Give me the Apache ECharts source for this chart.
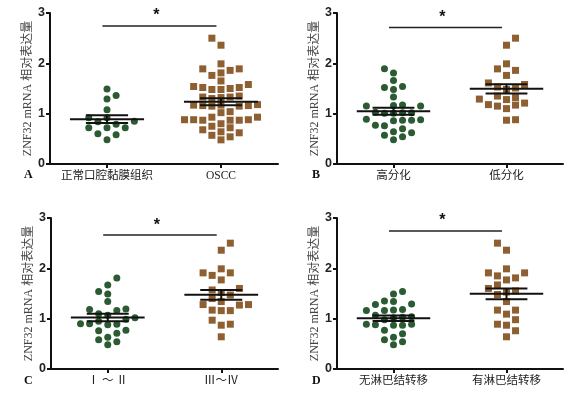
<!DOCTYPE html>
<html>
<head>
<meta charset="utf-8">
<script src="https://cdn.jsdelivr.net/npm/echarts@6/dist/echarts.min.js"></script>
<style>
  html, body { margin: 0; padding: 0; background: #fff; }
  #chart { width: 576px; height: 398px; }
</style>
</head>
<body>
<div id="chart"></div>
<script>
// panel tags + group names
const panelTags = ['A', 'B', 'C', 'D'];
const catsA = ['正常口腔黏膜组织', 'OSCC'];
const catsB = ['高分化', '低分化'];
const catsC = ['Ⅰ ～ Ⅱ', 'Ⅲ～Ⅳ'];
const catsD = ['无淋巴结转移', '有淋巴结转移'];
const yTicks = [0, 1, 2, 3];
const yName = 'ZNF32 mRNA 相对表达量';

// relative expression, one value per dot
const aNormal = [0.48, 0.58, 0.60, 0.72, 0.72, 0.72, 0.79, 0.84, 0.85, 0.92, 0.92, 1.08, 1.29, 1.36, 1.49];
const aOscc = [0.48, 0.54, 0.57, 0.62, 0.64, 0.68, 0.72, 0.75, 0.80, 0.87, 0.87, 0.87, 0.88, 0.88, 0.88,
  0.93, 0.93, 1.02, 1.04, 1.15, 1.15, 1.16, 1.16, 1.17, 1.17, 1.18, 1.30, 1.32, 1.33, 1.33, 1.35,
  1.48, 1.48, 1.50, 1.52, 1.52, 1.54, 1.58, 1.65, 1.76, 1.81, 1.86, 1.89, 1.89, 1.99, 2.36, 2.50];
const bHigh = [0.48, 0.54, 0.57, 0.62, 0.64, 0.70, 0.76, 0.77, 0.86, 0.87, 0.87, 0.88, 0.89, 1.01, 1.01,
  1.02, 1.02, 1.03, 1.15, 1.15, 1.16, 1.17, 1.33, 1.48, 1.52, 1.54, 1.66, 1.81, 1.89];
const bLow = [0.87, 0.88, 1.10, 1.15, 1.17, 1.18, 1.21, 1.28, 1.29, 1.32, 1.35, 1.48, 1.51, 1.53, 1.58,
  1.61, 1.76, 1.86, 1.89, 1.99, 2.36, 2.50];
const cEarly = [0.48, 0.54, 0.58, 0.63, 0.71, 0.76, 0.77, 0.88, 0.89, 0.90, 0.90, 0.95, 0.99, 1.02, 1.07,
  1.10, 1.16, 1.18, 1.19, 1.34, 1.49, 1.54, 1.67, 1.81];
const cLate = [0.64, 0.87, 0.89, 0.97, 1.16, 1.16, 1.17, 1.27, 1.28, 1.28, 1.34, 1.40, 1.47, 1.52, 1.57,
  1.60, 1.77, 1.86, 1.91, 1.91, 1.99, 2.36, 2.50];
const dNoMeta = [0.48, 0.54, 0.58, 0.63, 0.70, 0.77, 0.87, 0.87, 0.89, 0.88, 0.89, 0.98, 1.02, 1.03, 1.04,
  1.07, 1.16, 1.16, 1.17, 1.18, 1.28, 1.29, 1.34, 1.35, 1.49, 1.54];
const dMeta = [0.64, 0.76, 0.87, 0.89, 0.98, 1.09, 1.17, 1.17, 1.34, 1.48, 1.53, 1.55, 1.60, 1.67, 1.77,
  1.81, 1.85, 1.91, 1.91, 1.99, 2.36, 2.50];

// height of the "*" bracket in each panel
const sigY = [2.74, 2.71, 2.66, 2.74];

const panels = [
  { cats: catsA, groups: [aNormal, aOscc] },
  { cats: catsB, groups: [bHigh, bLow] },
  { cats: catsC, groups: [cEarly, cLate] },
  { cats: catsD, groups: [dNoMeta, dMeta] }
];

const grids = [
  { left: 50, top: 13, width: 228, height: 151 },
  { left: 337, top: 13, width: 226, height: 151 },
  { left: 51, top: 218, width: 227, height: 151 },
  { left: 337, top: 218, width: 226, height: 151 }
];
const tagPos = [[24, 169], [312, 169], [24, 375], [312, 375]];

const green = '#2a5b32';
const brown = '#8e6031';
const serif = "'Liberation Serif', 'Noto Sans CJK SC', serif";

// column scatter like prism: going up from the lowest value, each dot takes
// the column nearest the centre that has no dot too close below it
function swarm(vals, center, step, gap) {
  const placed = [];
  let flip = 1;
  vals.slice().sort((a, b) => a - b).forEach(v => {
    for (let r = 0; r < 20; r++) {
      const cands = r === 0 ? [0] : [r * flip, -r * flip];
      const k = cands.find(c => !placed.some(p => p.k === c && v - p.v < gap - 1e-9));
      if (k !== undefined) {
        placed.push({ k: k, v: v });
        if (k !== 0) flip = -flip;
        break;
      }
    }
  });
  return placed.map(p => [center + p.k * step, p.v]);
}

function meanSem(vals) {
  const n = vals.length;
  const m = vals.reduce((s, v) => s + v, 0) / n;
  const sd = Math.sqrt(vals.reduce((s, v) => s + (v - m) * (v - m), 0) / (n - 1));
  return [m, sd / Math.sqrt(n)];
}

function errorBars(params, api) {
  const x = api.value(0), m = api.value(1), s = api.value(2);
  const c = api.coord([x, m]);
  const hi = api.coord([x, m + s]);
  const lo = api.coord([x, m - s]);
  const wMean = api.size([0.65, 0])[0];
  const wCap = api.size([0.37, 0])[0];
  const st = { stroke: '#111', lineWidth: 2 };
  return {
    type: 'group',
    children: [
      { type: 'line', shape: { x1: c[0] - wMean, y1: c[1], x2: c[0] + wMean, y2: c[1] }, style: st },
      { type: 'line', shape: { x1: c[0], y1: hi[1], x2: c[0], y2: lo[1] }, style: st },
      { type: 'line', shape: { x1: c[0] - wCap, y1: hi[1], x2: c[0] + wCap, y2: hi[1] }, style: st },
      { type: 'line', shape: { x1: c[0] - wCap, y1: lo[1], x2: c[0] + wCap, y2: lo[1] }, style: st }
    ]
  };
}

function sigBar(params, api) {
  const p1 = api.coord([api.value(0), api.value(2)]);
  const p2 = api.coord([api.value(1), api.value(2)]);
  return {
    type: 'group',
    children: [
      { type: 'line', shape: { x1: p1[0], y1: p1[1], x2: p2[0], y2: p2[1] }, style: { stroke: '#222', lineWidth: 1.5 } },
      {
        type: 'text',
        x: (p1[0] + p2[0]) / 2 - 3, y: p1[1] - 10,
        style: { text: '*', fill: '#111', font: 'bold 16px "Liberation Sans"', align: 'center', verticalAlign: 'middle' }
      }
    ]
  };
}

const option = {
  animation: false,
  title: panelTags.map((t, i) => ({
    text: t, left: tagPos[i][0], top: tagPos[i][1], padding: 0,
    textStyle: { fontFamily: serif, fontSize: 12, fontWeight: 'bold', color: '#111' }
  })),
  grid: grids.map(g => Object.assign({ outerBoundsMode: 'none', containLabel: false }, g)),
  xAxis: panels.map((p, i) => ({
    gridIndex: i,
    type: 'value',
    min: 0,
    max: 4,
    splitLine: { show: false },
    axisLine: { show: true, lineStyle: { color: '#111', width: 2 } },
    axisTick: { show: true, customValues: [1, 3], length: 4, lineStyle: { color: '#111', width: 2 } },
    axisLabel: {
      customValues: [1, 3],
      margin: 6,
      fontFamily: serif,
      fontSize: 11.5,
      color: '#222',
      formatter: v => (v === 1 ? p.cats[0] : v === 3 ? p.cats[1] : '')
    }
  })),
  yAxis: panels.map((p, i) => ({
    gridIndex: i,
    type: 'value',
    min: yTicks[0],
    max: yTicks[yTicks.length - 1],
    interval: 1,
    name: yName,
    nameLocation: 'middle',
    nameGap: 15,
    nameTextStyle: { fontFamily: serif, fontSize: 12, color: '#444' },
    splitLine: { show: false },
    axisLine: { show: true, lineStyle: { color: '#111', width: 2 } },
    axisTick: { show: true, length: 4, lineStyle: { color: '#111', width: 2 } },
    axisLabel: { margin: 5, fontFamily: "'Liberation Sans', Arial, sans-serif", fontWeight: 'bold', fontSize: 12.5, color: '#222' }
  })),
  series: []
};

panels.forEach((p, i) => {
  p.groups.forEach((vals, g) => {
    option.series.push({
      type: 'scatter',
      xAxisIndex: i,
      yAxisIndex: i,
      symbol: g === 0 ? 'circle' : 'rect',
      symbolSize: 7,
      itemStyle: { color: g === 0 ? green : brown, opacity: 1 },
      data: swarm(vals, g === 0 ? 1 : 3, 0.16, 0.145),
      z: 2
    });
  });
  option.series.push({
    type: 'custom',
    xAxisIndex: i,
    yAxisIndex: i,
    renderItem: errorBars,
    data: p.groups.map((vals, g) => [g === 0 ? 1 : 3].concat(meanSem(vals))),
    z: 5
  });
  option.series.push({
    type: 'custom',
    xAxisIndex: i,
    yAxisIndex: i,
    renderItem: sigBar,
    data: [[0.92, 2.92, sigY[i]]],
    z: 5
  });
});

const chart = echarts.init(document.getElementById('chart'));
chart.setOption(option);
window.addEventListener('resize', function () {
  chart.resize();
});
</script>
</body>
</html>
